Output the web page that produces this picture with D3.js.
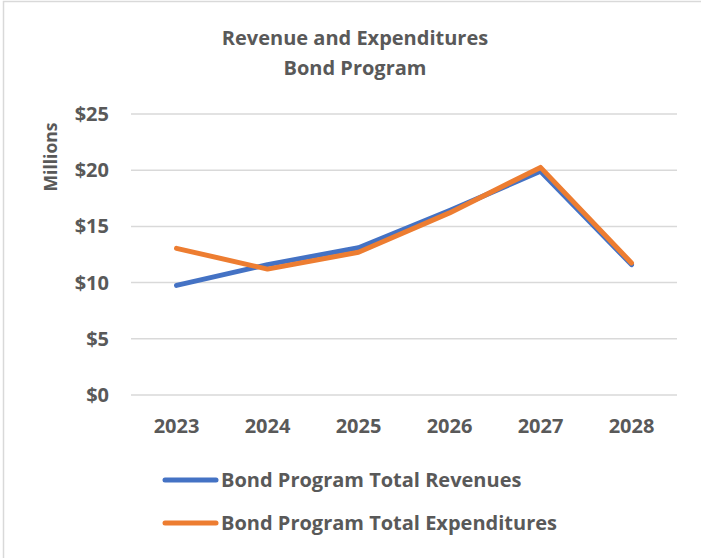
<!DOCTYPE html>
<html>
<head>
<meta charset="utf-8">
<script src="https://cdn.jsdelivr.net/npm/d3@7"></script>
<style>
  html, body { margin: 0; padding: 0; background: #fff; }
  svg { display: block; }
  text { font-family: "Open Sans", Lato, sans-serif; font-weight: bold; fill: #595959; }
</style>
</head>
<body>
<svg id="chart" width="701" height="558"></svg>
<script>
// Bond program figures, in millions of dollars
const years = ["2023", "2024", "2025", "2026", "2027", "2028"];
const revenues = [9.75, 11.6, 13.1, 16.4, 19.9, 11.6];
const expenditures = [13.05, 11.2, 12.7, 16.2, 20.25, 11.75];
const yTicks = [0, 5, 10, 15, 20, 25];
const seriesNames = ["Bond Program Total Revenues", "Bond Program Total Expenditures"];
const seriesColors = ["#4472C4", "#ED7D31"];

const svg = d3.select("#chart");
const W = 701, H = 558;
const FONT = "'Open Sans', Lato, sans-serif";

// outer chart frame
svg.append("rect")
  .attr("x", 3.5).attr("y", 1.5)
  .attr("width", W + 10).attr("height", H + 10)
  .attr("fill", "none").attr("stroke", "#d9d9d9").attr("stroke-width", 1.5);

// title
const title = svg.append("text").attr("text-anchor", "middle").style("font-size", "20px");
title.append("tspan").attr("x", 355).attr("y", 45).text("Revenue and Expenditures");
title.append("tspan").attr("x", 355).attr("y", 75).text("Bond Program");

const x = d3.scaleBand().domain(years).range([131, 677]);
const y = d3.scaleLinear().domain([0, 25]).range([395, 114]);

// horizontal gridlines
svg.append("g").selectAll("line").data(yTicks).join("line")
  .attr("x1", 131).attr("x2", 677)
  .attr("y1", d => y(d)).attr("y2", d => y(d))
  .attr("stroke", "#d9d9d9").attr("stroke-width", 1.5);

// y axis labels
const yAxis = svg.append("g").attr("transform", "translate(109,0)")
  .call(d3.axisLeft(y).tickValues(yTicks).tickSize(0).tickPadding(0).tickFormat(d => "$" + d));
yAxis.select(".domain").remove();
yAxis.selectAll("text").style("font-size", "20px").attr("fill", "#595959")
  .style("font-family", FONT).style("font-weight", "bold");

// x axis labels
const xAxis = svg.append("g").attr("transform", "translate(0,419)")
  .call(d3.axisBottom(x).tickSize(0).tickPadding(0));
xAxis.select(".domain").remove();
xAxis.selectAll("text").style("font-size", "20px").attr("fill", "#595959")
  .style("font-family", FONT).style("font-weight", "bold");

// y axis title
svg.append("text")
  .attr("transform", "translate(57,157) rotate(-90)")
  .attr("text-anchor", "middle").style("font-size", "17.5px")
  .text("Millions");

// series lines
const line = d3.line()
  .x((d, i) => x(years[i]) + x.bandwidth() / 2)
  .y(d => y(d));

[revenues, expenditures].forEach((vals, k) => {
  svg.append("path")
    .datum(vals)
    .attr("d", line)
    .attr("fill", "none")
    .attr("stroke", seriesColors[k])
    .attr("stroke-width", 5)
    .attr("stroke-linejoin", "round")
    .attr("stroke-linecap", "round");
});

// legend
const legend = svg.append("g");
seriesNames.forEach((name, k) => {
  const ly = 480 + k * 43;
  legend.append("line")
    .attr("x1", 165).attr("x2", 216).attr("y1", ly).attr("y2", ly)
    .attr("stroke", seriesColors[k]).attr("stroke-width", 5).attr("stroke-linecap", "round");
  legend.append("text")
    .attr("x", 221).attr("y", ly + 7)
    .style("font-size", "20px")
    .text(name);
});
</script>
</body>
</html>
